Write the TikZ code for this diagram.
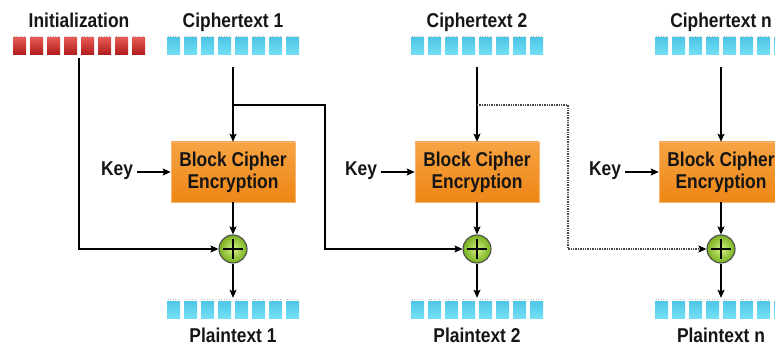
\documentclass[tikz,border=0pt]{standalone}
\usepackage{fontspec}
\setmainfont{Liberation Sans}[FakeStretch=0.87]
\usetikzlibrary{arrows.meta}

\definecolor{txt}{HTML}{151515}
\definecolor{redtop}{HTML}{E45852}
\definecolor{redbot}{HTML}{B01A1A}
\definecolor{bluetop}{HTML}{4EC6E6}
\definecolor{bluemid}{HTML}{1C92BC}
\definecolor{bluebot}{HTML}{74E0F6}
\definecolor{boxtop}{HTML}{F7A443}
\definecolor{boxbot}{HTML}{EE8616}
\definecolor{boxedge}{HTML}{F6B570}
\definecolor{xorin}{HTML}{D2F080}
\definecolor{xorout}{HTML}{78B020}

% one row of eight bits: centre x, centre y, fill style
\newcommand\bitrow[3]{%
  \foreach \k in {0,...,7}{%
    \path[#3] ({#1-66+17*\k},{#2-8.5}) rectangle ++(13,17);
    \draw[bitpin] ({#1-65.5+17*\k},{#2-10}) -- ++(12,0);
  }}

\begin{document}
\begin{tikzpicture}[x=1pt,y=-1pt,
  lbl/.style={font=\fontsize{20}{22}\selectfont\bfseries, text=txt, inner sep=0pt},
  rowbox/.style={minimum width=132pt, minimum height=19pt, inner sep=0pt},
  redbit/.style={top color=redtop, bottom color=redbot},
  bluebit/.style={top color=bluetop, middle color=bluemid, bottom color=bluebot},
  bitpin/.style={draw=gray!55, line width=0.7pt, dash pattern=on 1pt off 1.6pt},
  cipherbox/.style={lbl, draw=boxedge, line width=0.6pt, top color=boxtop, bottom color=boxbot,
    minimum width=124pt, minimum height=60pt, align=center},
  xor/.style={circle, minimum size=28pt, inner sep=0pt, draw=gray!60!black, line width=1.1pt,
    inner color=xorin, outer color=xorout,
    path picture={
      \draw[black, line width=1.1pt]
        ([yshift=-4pt]path picture bounding box.north) -- ([yshift=4pt]path picture bounding box.south)
        ([xshift=4pt]path picture bounding box.west) -- ([xshift=-4pt]path picture bounding box.east);}},
  conn/.style={draw=black, line width=1.1pt, -{Stealth[length=8pt,width=7pt,inset=1.5pt]}},
  dotconn/.style={draw=gray!55!black, line width=1.5pt, dash pattern=on 1.4pt off 1pt,
    -{Stealth[length=8pt,width=7pt,inset=1.5pt,black]}}
]
\useasboundingbox (0,0) rectangle (775,347);

% initialization vector
\node[rowbox] (iv) at (79,46.5) {};
\bitrow{79}{46.5}{redbit}
\node[lbl, anchor=base] (ivl) at (79,28) {Initialization};

% three decryption stages
\foreach \c/\n/\t in {233/1/1, 477/2/2, 721/3/n}{%
  \node[rowbox] (ct\n) at (\c,46.5) {};
  \bitrow{\c}{46.5}{bluebit}
  \node[lbl, anchor=base] (ctl\n) at (\c,28) {Ciphertext \t};
  \node[cipherbox] (bc\n) at (\c,172) {Block Cipher\\Encryption};
  \node[lbl, anchor=base] (key\n) at ({\c-116},176) {Key};
  \node[xor] (x\n) at (\c,249) {};
  \node[rowbox] (pt\n) at (\c,309.5) {};
  \bitrow{\c}{309.5}{bluebit}
  \node[lbl, anchor=base] (ptl\n) at (\c,342) {Plaintext \t};
  \draw[conn] ([yshift=-11pt]ct\n.south) -- (bc\n.north);
  \draw[conn, shorten <=4pt] (key\n.east |- bc\n.west) -- (bc\n.west);
  \draw[conn] (bc\n.south) -- (x\n.north);
  \draw[conn] (x\n.south) -- ([yshift=2pt]pt\n.north);
}

% chaining connectors
\coordinate (br1) at (233,105);
\coordinate (j1) at (325,105);
\coordinate (br2) at (477,105);
\coordinate (j2) at (568,105);
\draw[conn] ([yshift=-2pt]iv.south) |- (x1.west);
\draw[conn] (br1) -- (j1) |- (x2.west);
\draw[dotconn] (br2) -- (j2) |- (x3.west);
\end{tikzpicture}
\end{document}
